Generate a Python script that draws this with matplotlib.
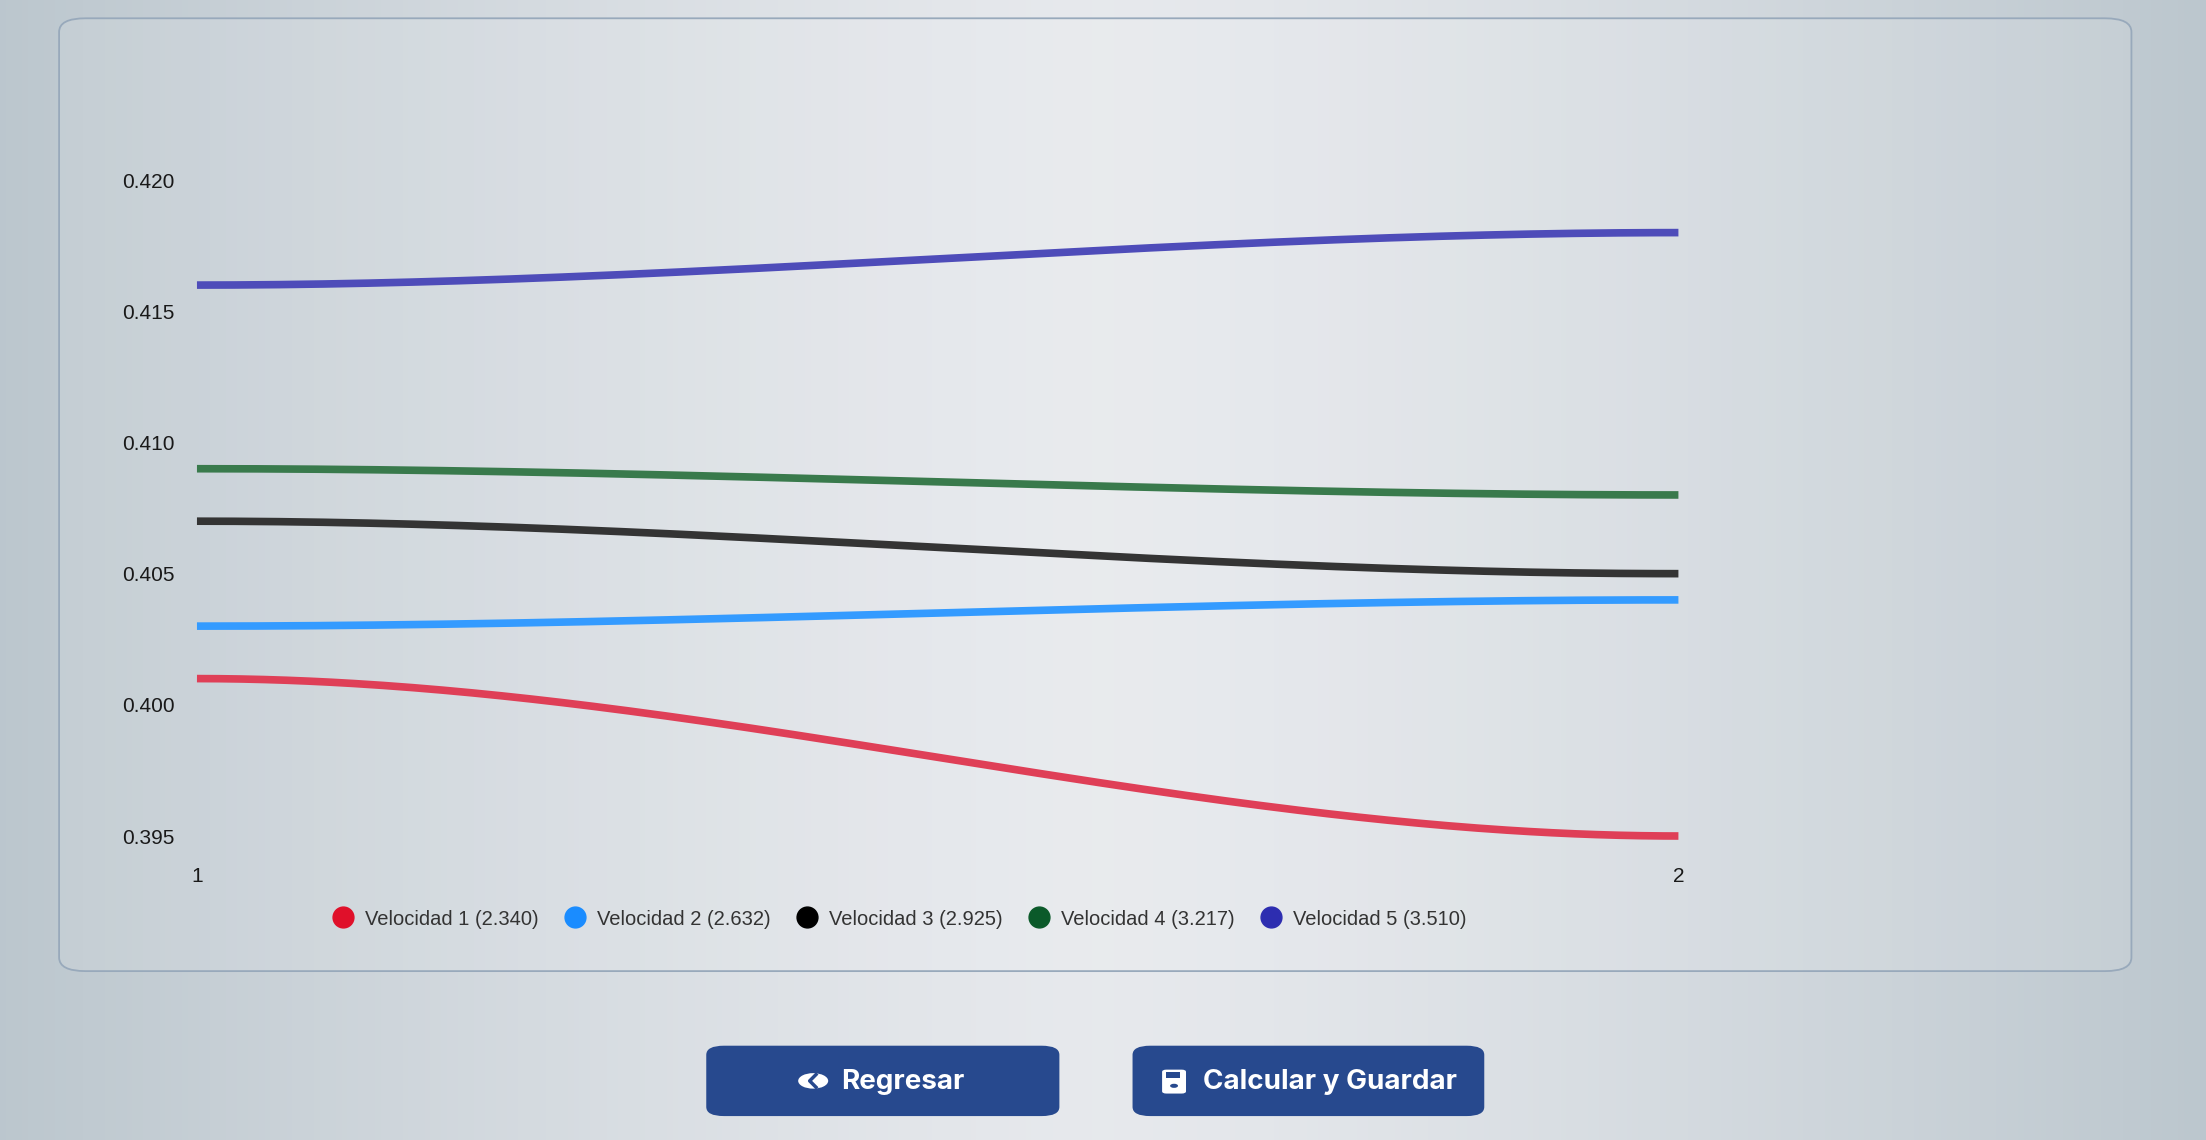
import numpy as np
import matplotlib
matplotlib.use("Agg")
import matplotlib.pyplot as plt
from matplotlib.patches import FancyBboxPatch, Circle, Rectangle
from matplotlib.lines import Line2D

plt.rcParams["font.family"] = ["Liberation Sans", "DejaVu Sans"]

# data
x_points = [1, 2]
series_names = ["Velocidad 1 (2.340)", "Velocidad 2 (2.632)", "Velocidad 3 (2.925)",
                "Velocidad 4 (3.217)", "Velocidad 5 (3.510)"]
series_values = [
    [0.401, 0.395],
    [0.403, 0.404],
    [0.407, 0.405],
    [0.409, 0.408],
    [0.416, 0.418],
]
line_colors = ["#dc2a45", "#1e90ff", "#1e1e1e", "#236b38", "#3a38b2"]
dot_colors = ["#e0102a", "#1a8cff", "#000000", "#0b5a2a", "#2d2db0"]
y_ticks = [0.395, 0.400, 0.405, 0.410, 0.415, 0.420]

W, H = 1568, 810  # layout units of the reference


def fx(px):
    return px / W


def fy(py):
    return 1 - py / H


fig = plt.figure(figsize=(22.06, 11.40), dpi=100)

# page background: light centre fading to blue-grey edges
bg = fig.add_axes([0, 0, 1, 1], zorder=-5)
xs = np.linspace(-1, 1, 400)
grad = 1 - np.abs(xs) ** 1.3
c_edge = np.array([0.737, 0.780, 0.808])
c_mid = np.array([0.905, 0.914, 0.929])
img = c_edge + (c_mid - c_edge) * grad[:, None]
bg.imshow(img[None, :, :], aspect="auto", extent=[0, 1, 0, 1])
bg.set_xlim(0, 1)
bg.set_ylim(0, 1)
bg.axis("off")

# chart panel
panel = FancyBboxPatch((fx(42), fy(690)), fx(1515) - fx(42), fy(13) - fy(690),
                       boxstyle="round,pad=0,rounding_size=0.012",
                       transform=fig.transFigure, facecolor=(1, 1, 1, 0.1),
                       edgecolor="#98a9bb", linewidth=1.3)
fig.patches.append(panel)

ax = fig.add_axes([fx(140), fy(594), fx(1193) - fx(140), fy(128) - fy(594)])
ax.patch.set_alpha(0)
t = np.linspace(0, 1, 200)
ease = 3 * t ** 2 - 2 * t ** 3
for vals, col in zip(series_values, line_colors):
    xx = x_points[0] + (x_points[1] - x_points[0]) * t
    yy = vals[0] + (vals[1] - vals[0]) * ease
    ax.plot(xx, yy, color=col, linewidth=5.5, solid_capstyle="butt", clip_on=False)
ax.set_xlim(1, 2)
ax.set_ylim(0.395, 0.420)
ax.set_yticks(y_ticks)
ax.set_yticklabels([f"{v:.3f}" for v in y_ticks])
ax.set_xticks(x_points)
ax.set_xticklabels([str(v) for v in x_points])
ax.tick_params(length=0, labelsize=15, colors="#000000")
ax.tick_params(axis="y", pad=16)
ax.tick_params(axis="x", pad=22)
for s in ax.spines.values():
    s.set_visible(False)

handles = [Line2D([], [], linestyle="none", marker="o", markersize=15,
                  markerfacecolor=c, markeredgecolor=c) for c in dot_colors]
fig.legend(handles, series_names, loc="center", bbox_to_anchor=(fx(636), fy(653)),
           ncol=5, frameon=False, fontsize=14.5, handletextpad=0.1,
           columnspacing=0.8, labelcolor="#333333")

# buttons
btn_color = "#27498e"
for x0, x1 in [(502, 753), (805, 1055)]:
    b = FancyBboxPatch((fx(x0), fy(793)), fx(x1) - fx(x0), fy(743) - fy(793),
                       boxstyle="round,pad=0,rounding_size=0.008",
                       transform=fig.transFigure, facecolor=btn_color,
                       edgecolor="none")
    fig.patches.append(b)

fig.text(fx(598), fy(769), "Regresar", color="white", fontsize=20,
         fontweight="bold", family=["Inter", "DejaVu Sans"], va="center")
fig.text(fx(855), fy(769), "Calcular y Guardar", color="white", fontsize=20,
         fontweight="bold", family=["Inter", "DejaVu Sans"], va="center")

# icons on top of the buttons
fig.patches.append(Circle((fx(578), fy(768)), 0.0068, transform=fig.transFigure,
                          facecolor="white", edgecolor="none"))
fig.lines.append(Line2D([fx(580), fx(575.5), fx(580)], [fy(763.5), fy(768), fy(772.5)],
                        color=btn_color, linewidth=2.5, transform=fig.transFigure))
fig.patches.append(FancyBboxPatch((fx(826), fy(777)), fx(17), fy(760) - fy(777),
                                  boxstyle="round,pad=0,rounding_size=0.002",
                                  transform=fig.transFigure, facecolor="white",
                                  edgecolor="none"))
fig.patches.append(Rectangle((fx(829), fy(766)), fx(10), fy(762) - fy(766),
                             transform=fig.transFigure, facecolor=btn_color))
fig.patches.append(Circle((fx(834.5), fy(771.5)), 0.0018, transform=fig.transFigure,
                          facecolor=btn_color))

fig.savefig("out.png", dpi=100)
